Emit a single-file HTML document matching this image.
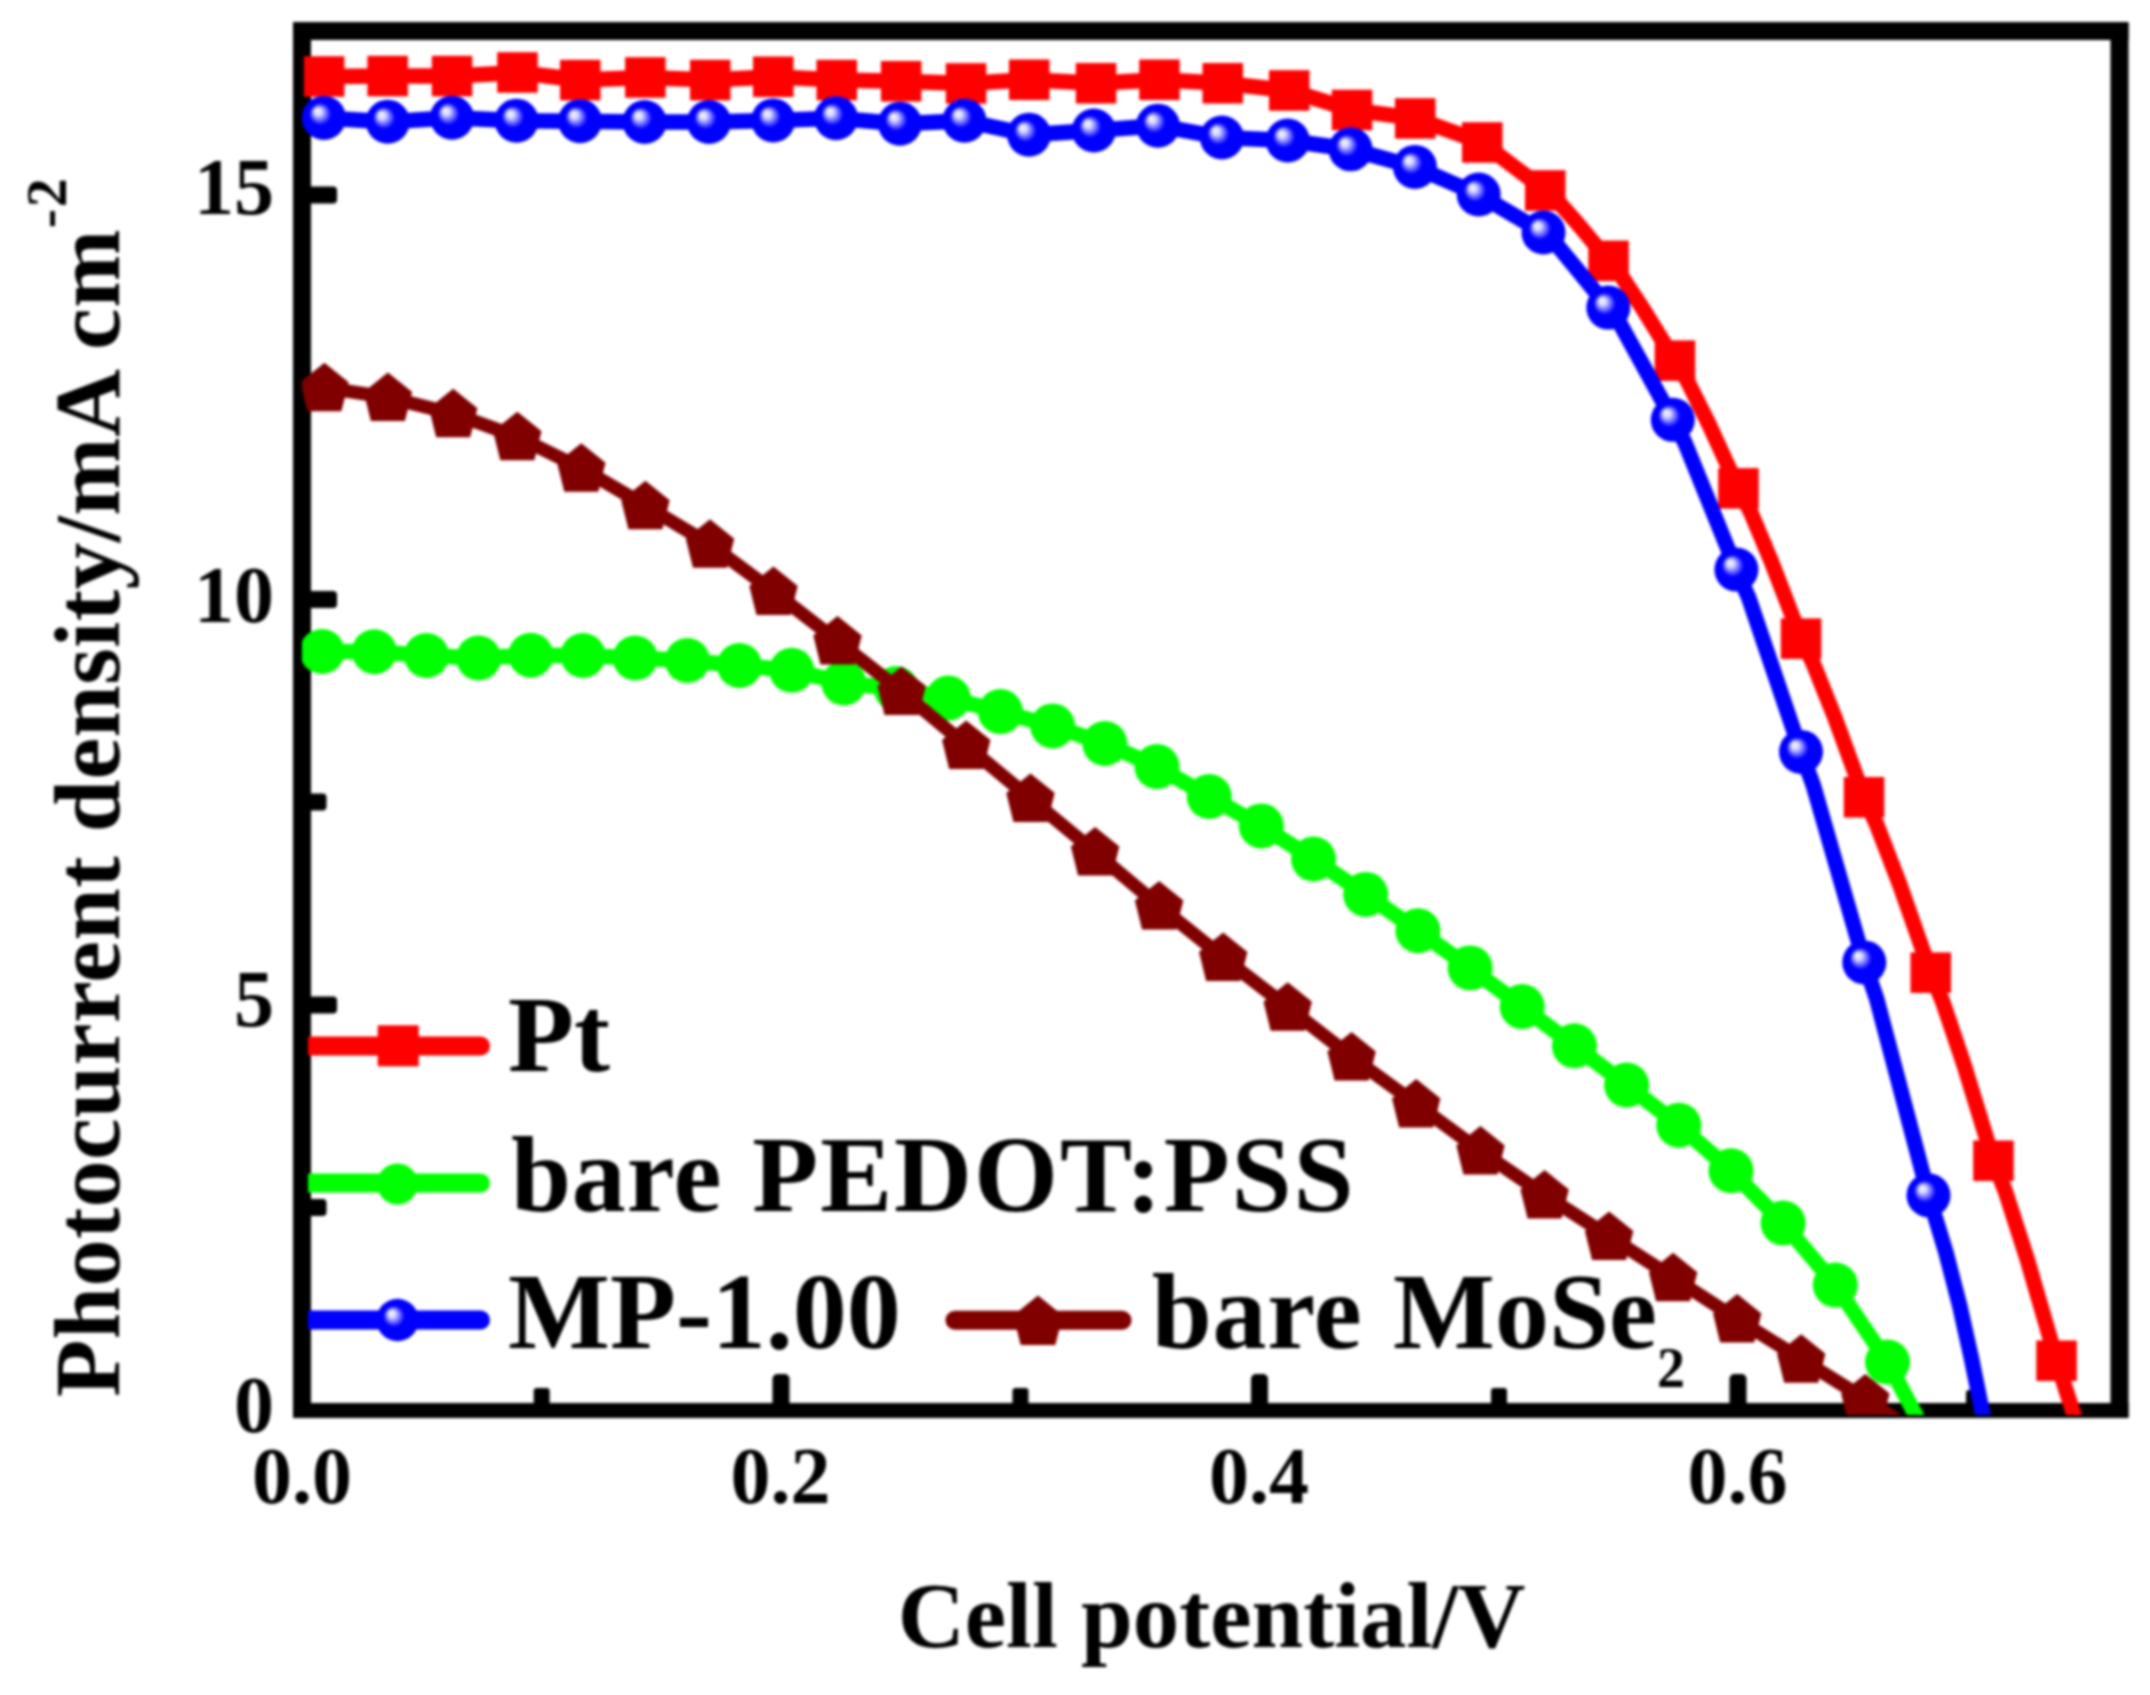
<!DOCTYPE html><html><head><meta charset="utf-8"><title>J-V curves</title>
<style>html,body{margin:0;padding:0;background:#fff}svg{display:block;filter:blur(1.6px)}text{font-family:"Liberation Serif",serif;font-weight:bold;fill:#000}</style></head><body>
<svg width="2150" height="1695" viewBox="0 0 2150 1695">
<defs>
<radialGradient id="ball" cx="0.5" cy="0.5" r="0.5" fx="0.34" fy="0.33"><stop offset="0" stop-color="#f4f4ff"/><stop offset="0.16" stop-color="#dcdcff"/><stop offset="0.5" stop-color="#0000ff"/><stop offset="1" stop-color="#0000ff"/></radialGradient>
<clipPath id="clip"><rect x="302" y="31" width="1817" height="1384"/></clipPath>
</defs>
<rect width="2150" height="1695" fill="#fff"/>
<g fill="#000">
<rect x="293" y="22" width="18" height="1396"/>
<rect x="2110.5" y="22" width="18" height="1396"/>
<rect x="293" y="22" width="1835.5" height="18"/>
<rect x="293" y="1403" width="1835.5" height="15"/>
<rect x="305" y="186.5" width="32" height="17" rx="4"/>
<rect x="305" y="591.0" width="32" height="17" rx="4"/>
<rect x="305" y="996.5" width="32" height="17" rx="4"/>
<rect x="305" y="389.0" width="21.5" height="17" rx="4"/>
<rect x="305" y="793.5" width="21.5" height="17" rx="4"/>
<rect x="305" y="1199.0" width="21.5" height="17" rx="4"/>
<rect x="772.5" y="1374" width="17" height="34" rx="5"/>
<rect x="1251.0" y="1374" width="17" height="34" rx="5"/>
<rect x="1729.5" y="1374" width="17" height="34" rx="5"/>
<rect x="533.7" y="1388" width="16" height="20" rx="3"/>
<rect x="1012.5" y="1388" width="16" height="20" rx="3"/>
<rect x="1491" y="1388" width="16" height="20" rx="3"/>
<rect x="1966" y="1390" width="19" height="18" rx="3"/>
</g>
<g clip-path="url(#clip)">
<path d="M324.1,76.5 Q355.9,76.3 387.7,76.1 Q419.9,76.1 452.0,76.1 Q484.8,74.3 517.5,72.5 Q548.9,76.2 580.3,80.0 Q612.8,78.8 645.4,77.5 Q677.8,78.8 710.2,80.0 Q741.7,78.3 773.2,76.7 Q805.0,78.3 836.7,80.0 Q868.9,80.6 901.1,81.2 Q933.5,82.3 966.0,83.5 Q997.6,81.6 1029.3,79.7 Q1062.7,81.5 1096.0,83.3 Q1127.7,81.5 1159.4,79.7 Q1191.1,81.5 1222.7,83.3 Q1256.0,86.9 1289.2,90.5 Q1320.6,100.2 1352.0,109.9 Q1383.6,114.2 1415.2,118.4 Q1448.7,130.4 1482.2,142.5 Q1513.8,166.5 1545.3,190.5 L1557.1,200.3 L1578.3,224.4 L1608.6,260.8 L1621.0,275.6 L1643.4,309.6 L1674.9,360.6 L1687.0,380.1 L1708.6,423.5 L1738.4,488.4 L1750.4,511.6 L1771.8,562.6 L1801.0,638.6 L1813.1,663.2 L1834.7,717.1 L1864.0,797.3 L1876.7,824.6 L1899.6,884.1 L1930.7,972.6 L1942.8,1002.0 L1964.4,1065.9 L1993.4,1160.7 L2005.6,1192.0 L2027.4,1259.9 L2056.6,1360.7 L2066.0,1390.0 L2073.8,1414.4 L2081.0,1440.0" fill="none" stroke="#ff0000" stroke-width="15.5" stroke-linejoin="round"/>
<rect x="303.9" y="56.2" width="40.5" height="40.5" fill="#ff0000"/>
<rect x="367.4" y="55.8" width="40.5" height="40.5" fill="#ff0000"/>
<rect x="431.8" y="55.8" width="40.5" height="40.5" fill="#ff0000"/>
<rect x="497.2" y="52.2" width="40.5" height="40.5" fill="#ff0000"/>
<rect x="560.0" y="59.8" width="40.5" height="40.5" fill="#ff0000"/>
<rect x="625.1" y="57.2" width="40.5" height="40.5" fill="#ff0000"/>
<rect x="690.0" y="59.8" width="40.5" height="40.5" fill="#ff0000"/>
<rect x="753.0" y="56.5" width="40.5" height="40.5" fill="#ff0000"/>
<rect x="816.5" y="59.8" width="40.5" height="40.5" fill="#ff0000"/>
<rect x="880.9" y="61.0" width="40.5" height="40.5" fill="#ff0000"/>
<rect x="945.8" y="63.2" width="40.5" height="40.5" fill="#ff0000"/>
<rect x="1009.0" y="59.5" width="40.5" height="40.5" fill="#ff0000"/>
<rect x="1075.8" y="63.0" width="40.5" height="40.5" fill="#ff0000"/>
<rect x="1139.2" y="59.5" width="40.5" height="40.5" fill="#ff0000"/>
<rect x="1202.5" y="63.0" width="40.5" height="40.5" fill="#ff0000"/>
<rect x="1269.0" y="70.2" width="40.5" height="40.5" fill="#ff0000"/>
<rect x="1331.8" y="89.7" width="40.5" height="40.5" fill="#ff0000"/>
<rect x="1395.0" y="98.2" width="40.5" height="40.5" fill="#ff0000"/>
<rect x="1462.0" y="122.2" width="40.5" height="40.5" fill="#ff0000"/>
<rect x="1525.0" y="170.2" width="40.5" height="40.5" fill="#ff0000"/>
<rect x="1588.3" y="240.6" width="40.5" height="40.5" fill="#ff0000"/>
<rect x="1654.7" y="340.4" width="40.5" height="40.5" fill="#ff0000"/>
<rect x="1718.2" y="468.1" width="40.5" height="40.5" fill="#ff0000"/>
<rect x="1780.8" y="618.4" width="40.5" height="40.5" fill="#ff0000"/>
<rect x="1843.8" y="777.0" width="40.5" height="40.5" fill="#ff0000"/>
<rect x="1910.5" y="952.4" width="40.5" height="40.5" fill="#ff0000"/>
<rect x="1973.2" y="1140.5" width="40.5" height="40.5" fill="#ff0000"/>
<rect x="2036.3" y="1340.5" width="40.5" height="40.5" fill="#ff0000"/>
<path d="M322.1,651.5 Q348.2,651.6 374.3,651.7 Q400.4,653.6 426.5,655.5 Q452.6,656.8 478.6,658.0 Q504.7,656.6 530.8,655.2 Q556.9,655.4 583.0,655.5 Q609.1,656.8 635.2,658.0 Q661.3,659.2 687.4,660.5 Q713.5,663.0 739.5,665.5 Q765.6,667.9 791.7,670.3 Q817.8,676.6 843.9,683.0 Q870.0,685.8 896.1,688.5 Q922.2,693.3 948.3,698.1 Q974.4,704.9 1000.4,711.6 Q1026.5,718.8 1052.6,725.9 Q1078.7,734.7 1104.8,743.5 Q1130.9,755.0 1157.0,766.6 Q1183.1,781.5 1209.2,796.5 Q1235.2,811.2 1261.3,825.9 Q1287.4,842.5 1313.5,859.0 Q1339.6,876.7 1365.7,894.4 Q1391.8,912.5 1417.9,930.7 Q1444.0,949.3 1470.1,967.9 Q1496.2,987.2 1522.2,1006.6 Q1548.3,1026.2 1574.4,1045.8 Q1600.5,1065.4 1626.6,1085.0 Q1652.7,1105.1 1678.8,1125.2 Q1704.9,1148.0 1731.0,1170.7 Q1757.0,1196.8 1783.1,1223.0 Q1809.2,1254.0 1835.3,1285.0 Q1861.4,1323.5 1887.5,1362.0 L1929.0,1440.0" fill="none" stroke="#00ff00" stroke-width="15.5" stroke-linejoin="round"/>
<circle cx="322.1" cy="651.5" r="22.5" fill="#00ff00"/>
<circle cx="374.3" cy="651.7" r="22.5" fill="#00ff00"/>
<circle cx="426.5" cy="655.5" r="22.5" fill="#00ff00"/>
<circle cx="478.6" cy="658.0" r="22.5" fill="#00ff00"/>
<circle cx="530.8" cy="655.2" r="22.5" fill="#00ff00"/>
<circle cx="583.0" cy="655.5" r="22.5" fill="#00ff00"/>
<circle cx="635.2" cy="658.0" r="22.5" fill="#00ff00"/>
<circle cx="687.4" cy="660.5" r="22.5" fill="#00ff00"/>
<circle cx="739.5" cy="665.5" r="22.5" fill="#00ff00"/>
<circle cx="791.7" cy="670.3" r="22.5" fill="#00ff00"/>
<circle cx="843.9" cy="683.0" r="22.5" fill="#00ff00"/>
<circle cx="896.1" cy="688.5" r="22.5" fill="#00ff00"/>
<circle cx="948.3" cy="698.1" r="22.5" fill="#00ff00"/>
<circle cx="1000.4" cy="711.6" r="22.5" fill="#00ff00"/>
<circle cx="1052.6" cy="725.9" r="22.5" fill="#00ff00"/>
<circle cx="1104.8" cy="743.5" r="22.5" fill="#00ff00"/>
<circle cx="1157.0" cy="766.6" r="22.5" fill="#00ff00"/>
<circle cx="1209.2" cy="796.5" r="22.5" fill="#00ff00"/>
<circle cx="1261.3" cy="825.9" r="22.5" fill="#00ff00"/>
<circle cx="1313.5" cy="859.0" r="22.5" fill="#00ff00"/>
<circle cx="1365.7" cy="894.4" r="22.5" fill="#00ff00"/>
<circle cx="1417.9" cy="930.7" r="22.5" fill="#00ff00"/>
<circle cx="1470.1" cy="967.9" r="22.5" fill="#00ff00"/>
<circle cx="1522.2" cy="1006.6" r="22.5" fill="#00ff00"/>
<circle cx="1574.4" cy="1045.8" r="22.5" fill="#00ff00"/>
<circle cx="1626.6" cy="1085.0" r="22.5" fill="#00ff00"/>
<circle cx="1678.8" cy="1125.2" r="22.5" fill="#00ff00"/>
<circle cx="1731.0" cy="1170.7" r="22.5" fill="#00ff00"/>
<circle cx="1783.1" cy="1223.0" r="22.5" fill="#00ff00"/>
<circle cx="1835.3" cy="1285.0" r="22.5" fill="#00ff00"/>
<circle cx="1887.5" cy="1362.0" r="22.5" fill="#00ff00"/>
<path d="M323.9,117.9 Q355.8,119.8 387.7,121.7 Q419.9,119.7 452.0,117.7 Q484.2,119.2 516.5,120.7 Q548.2,121.0 580.0,121.2 Q612.3,121.6 644.6,122.0 Q676.8,122.0 709.0,122.0 Q741.1,121.2 773.2,120.4 Q804.6,119.3 836.0,118.2 Q868.0,121.0 899.9,123.7 Q932.1,122.2 964.4,120.7 Q996.7,127.7 1029.0,134.7 Q1061.4,132.6 1093.8,130.5 Q1125.8,128.1 1157.9,125.7 Q1189.9,131.6 1221.9,137.5 Q1254.8,139.0 1287.7,140.5 Q1319.2,144.9 1350.6,149.3 Q1382.8,158.1 1414.9,166.9 Q1446.8,180.7 1478.7,194.5 Q1511.1,213.5 1543.5,232.5 L1555.5,243.1 L1576.9,269.2 L1608.3,307.6 L1620.5,324.5 L1641.7,363.1 L1672.8,419.8 L1685.0,442.9 L1705.8,494.2 L1736.4,569.6 L1748.8,598.0 L1769.9,660.3 L1801.0,751.9 L1813.2,785.0 L1833.9,856.8 L1864.3,962.4 L1876.7,999.1 L1897.7,1078.5 L1928.5,1195.3 L1945.8,1252.0 L1959.6,1305.3 L1971.8,1360.0 L1982.8,1414.4 L1988.3,1440.0" fill="none" stroke="#0000ff" stroke-width="15.5" stroke-linejoin="round"/>
<circle cx="323.9" cy="117.9" r="22.0" fill="url(#ball)"/>
<circle cx="387.7" cy="121.7" r="22.0" fill="url(#ball)"/>
<circle cx="452.0" cy="117.7" r="22.0" fill="url(#ball)"/>
<circle cx="516.5" cy="120.7" r="22.0" fill="url(#ball)"/>
<circle cx="580.0" cy="121.2" r="22.0" fill="url(#ball)"/>
<circle cx="644.6" cy="122.0" r="22.0" fill="url(#ball)"/>
<circle cx="709.0" cy="122.0" r="22.0" fill="url(#ball)"/>
<circle cx="773.2" cy="120.4" r="22.0" fill="url(#ball)"/>
<circle cx="836.0" cy="118.2" r="22.0" fill="url(#ball)"/>
<circle cx="899.9" cy="123.7" r="22.0" fill="url(#ball)"/>
<circle cx="964.4" cy="120.7" r="22.0" fill="url(#ball)"/>
<circle cx="1029.0" cy="134.7" r="22.0" fill="url(#ball)"/>
<circle cx="1093.8" cy="130.5" r="22.0" fill="url(#ball)"/>
<circle cx="1157.9" cy="125.7" r="22.0" fill="url(#ball)"/>
<circle cx="1221.9" cy="137.5" r="22.0" fill="url(#ball)"/>
<circle cx="1287.7" cy="140.5" r="22.0" fill="url(#ball)"/>
<circle cx="1350.6" cy="149.3" r="22.0" fill="url(#ball)"/>
<circle cx="1414.9" cy="166.9" r="22.0" fill="url(#ball)"/>
<circle cx="1478.7" cy="194.5" r="22.0" fill="url(#ball)"/>
<circle cx="1543.5" cy="232.5" r="22.0" fill="url(#ball)"/>
<circle cx="1608.3" cy="307.6" r="22.0" fill="url(#ball)"/>
<circle cx="1672.8" cy="419.8" r="22.0" fill="url(#ball)"/>
<circle cx="1736.4" cy="569.6" r="22.0" fill="url(#ball)"/>
<circle cx="1801.0" cy="751.9" r="22.0" fill="url(#ball)"/>
<circle cx="1864.3" cy="962.4" r="22.0" fill="url(#ball)"/>
<circle cx="1928.5" cy="1195.3" r="22.0" fill="url(#ball)"/>
<path d="M324.4,387.7 Q356.1,392.5 387.9,397.4 Q420.5,405.5 453.2,413.7 Q485.2,425.2 517.3,436.7 Q549.3,452.4 581.3,468.2 Q613.3,486.9 645.4,505.7 Q677.7,525.0 710.0,544.3 Q741.8,567.9 773.5,591.5 Q805.5,616.2 837.5,641.0 Q869.5,666.2 901.6,691.4 Q933.9,718.4 966.2,745.4 Q998.4,772.0 1030.5,798.6 Q1062.8,825.4 1095.1,852.1 Q1127.1,879.1 1159.1,906.1 Q1191.2,931.9 1223.2,957.6 Q1255.5,982.4 1287.7,1007.2 Q1319.7,1032.1 1351.6,1056.9 Q1383.9,1080.4 1416.2,1103.9 Q1448.3,1127.5 1480.5,1151.1 Q1512.5,1173.1 1544.6,1195.0 Q1576.8,1215.7 1609.1,1236.4 Q1641.1,1257.1 1673.1,1277.7 Q1705.2,1298.4 1737.2,1319.1 Q1769.2,1339.2 1801.2,1359.3 Q1833.2,1379.2 1865.3,1399.1 L1929.0,1441.0" fill="none" stroke="#800000" stroke-width="13.5" stroke-linejoin="round"/>
<polygon points="324.4,362.7 348.6,382.2 341.4,411.2 307.4,411.2 300.2,382.2" fill="#800000"/>
<polygon points="387.9,372.4 412.1,391.9 404.9,420.9 370.9,420.9 363.7,391.9" fill="#800000"/>
<polygon points="453.2,388.7 477.4,408.2 470.2,437.2 436.2,437.2 429.0,408.2" fill="#800000"/>
<polygon points="517.3,411.7 541.5,431.2 534.3,460.2 500.3,460.2 493.1,431.2" fill="#800000"/>
<polygon points="581.3,443.2 605.5,462.7 598.3,491.7 564.3,491.7 557.1,462.7" fill="#800000"/>
<polygon points="645.4,480.7 669.6,500.2 662.4,529.2 628.4,529.2 621.2,500.2" fill="#800000"/>
<polygon points="710.0,519.3 734.2,538.8 727.0,567.8 693.0,567.8 685.8,538.8" fill="#800000"/>
<polygon points="773.5,566.5 797.7,586.0 790.5,615.0 756.5,615.0 749.3,586.0" fill="#800000"/>
<polygon points="837.5,616.0 861.7,635.5 854.5,664.5 820.5,664.5 813.3,635.5" fill="#800000"/>
<polygon points="901.6,666.4 925.8,685.9 918.6,714.9 884.6,714.9 877.4,685.9" fill="#800000"/>
<polygon points="966.2,720.4 990.4,739.9 983.2,768.9 949.2,768.9 942.0,739.9" fill="#800000"/>
<polygon points="1030.5,773.6 1054.7,793.1 1047.5,822.1 1013.5,822.1 1006.3,793.1" fill="#800000"/>
<polygon points="1095.1,827.1 1119.3,846.6 1112.1,875.6 1078.1,875.6 1070.9,846.6" fill="#800000"/>
<polygon points="1159.1,881.1 1183.3,900.6 1176.1,929.6 1142.1,929.6 1134.9,900.6" fill="#800000"/>
<polygon points="1223.2,932.6 1247.4,952.1 1240.2,981.1 1206.2,981.1 1199.0,952.1" fill="#800000"/>
<polygon points="1287.7,982.2 1311.9,1001.7 1304.7,1030.7 1270.7,1030.7 1263.5,1001.7" fill="#800000"/>
<polygon points="1351.6,1031.9 1375.8,1051.4 1368.6,1080.4 1334.6,1080.4 1327.4,1051.4" fill="#800000"/>
<polygon points="1416.2,1078.9 1440.4,1098.4 1433.2,1127.4 1399.2,1127.4 1392.0,1098.4" fill="#800000"/>
<polygon points="1480.5,1126.1 1504.7,1145.6 1497.5,1174.6 1463.5,1174.6 1456.3,1145.6" fill="#800000"/>
<polygon points="1544.6,1170.0 1568.8,1189.5 1561.6,1218.5 1527.6,1218.5 1520.4,1189.5" fill="#800000"/>
<polygon points="1609.1,1211.4 1633.3,1230.9 1626.1,1259.9 1592.1,1259.9 1584.9,1230.9" fill="#800000"/>
<polygon points="1673.1,1252.7 1697.3,1272.2 1690.1,1301.2 1656.1,1301.2 1648.9,1272.2" fill="#800000"/>
<polygon points="1737.2,1294.1 1761.4,1313.6 1754.2,1342.6 1720.2,1342.6 1713.0,1313.6" fill="#800000"/>
<polygon points="1801.2,1334.3 1825.4,1353.8 1818.2,1382.8 1784.2,1382.8 1777.0,1353.8" fill="#800000"/>
<polygon points="1865.3,1374.1 1889.5,1393.6 1882.3,1422.6 1848.3,1422.6 1841.1,1393.6" fill="#800000"/>
</g>
<clipPath id="lclip"><rect x="308" y="1000" width="900" height="400"/></clipPath>
<g stroke-linecap="round" fill="none" stroke-width="19" clip-path="url(#lclip)">
<line x1="300" y1="1046" x2="480.5" y2="1046" stroke="#ff0000"/>
<line x1="300" y1="1183" x2="480.5" y2="1183" stroke="#00ff00"/>
<line x1="300" y1="1320" x2="480.5" y2="1320" stroke="#0000ff"/>
<line x1="955" y1="1320.3" x2="1122" y2="1320.3" stroke="#800000"/>
</g>
<rect x="377.7" y="1025.3" width="41" height="41" fill="#ff0000"/>
<circle cx="397.5" cy="1184" r="20.5" fill="#00ff00"/>
<circle cx="397.5" cy="1320" r="21.2" fill="url(#ball)"/>
<polygon points="1038.0,1295.5 1062.7,1315.4 1055.3,1345.0 1020.7,1345.0 1013.3,1315.4" fill="#800000"/>
<g font-size="108">
<text x="508" y="1070.5">Pt</text>
<text y="1211"><tspan x="511" letter-spacing="0.8">bare </tspan><tspan x="752.3" letter-spacing="1.9">PEDOT:PSS</tspan></text>
<text x="508" y="1347.5">MP-1.00</text>
<text y="1348"><tspan x="1151.7" letter-spacing="0.7">bare </tspan><tspan x="1393">MoSe</tspan><tspan x="1657" font-size="56" dy="39">2</tspan></text>
</g>
<g font-size="80" text-anchor="end">
<text x="274" y="213.5">15</text>
<text x="274" y="621.5">10</text>
<text x="274" y="1026">5</text>
<text x="274" y="1432">0</text>
</g>
<g font-size="80" text-anchor="middle">
<text x="302" y="1503">0.0</text>
<text x="780.5" y="1503">0.2</text>
<text x="1259" y="1503">0.4</text>
<text x="1737.5" y="1503">0.6</text>
</g>
<text x="1211.5" y="1647" font-size="93" text-anchor="middle">Cell potential/V</text>
<text transform="translate(118.5,1397) rotate(-90)" font-size="94" letter-spacing="0.4">Photocurrent density/mA cm<tspan font-size="58" dy="-53" dx="1" letter-spacing="1.5">-2</tspan></text>
</svg></body></html>
